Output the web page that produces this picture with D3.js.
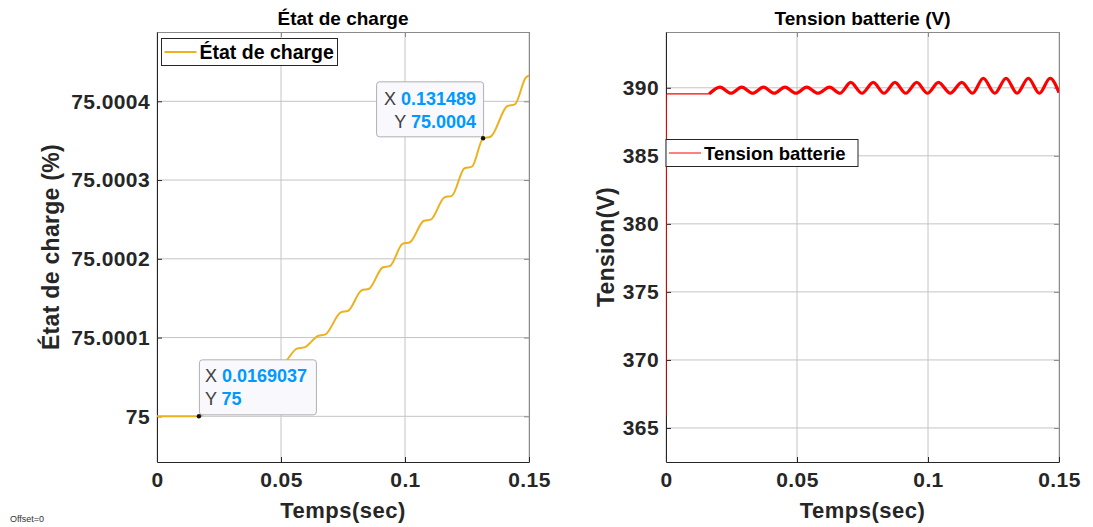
<!DOCTYPE html>
<html>
<head>
<meta charset="utf-8">
<script src="https://cdn.jsdelivr.net/npm/d3@7"></script>
<style>
  body { margin: 0; background: #fff; }
  svg { display: block; font-family: "Liberation Sans", Arial, Helvetica, sans-serif; }
</style>
</head>
<body>
<div class="graph"></div>
<script>
// axe du temps (commun)
const timeTicks = [0, 0.05, 0.1, 0.15]
const timeTickLabels = ['0', '0.05', '0.1', '0.15']

// État de charge (%)
const socTime = [0, 0.0169, 0.0228, 0.0258, 0.0311, 0.0341, 0.0394, 0.0424, 0.0477, 0.0507,
  0.0564, 0.0594, 0.0649, 0.0679, 0.0741, 0.0771, 0.0825, 0.0855, 0.0910, 0.0940,
  0.0990, 0.1020, 0.1075, 0.1105, 0.1159, 0.1189, 0.1240, 0.1270, 0.1315, 0.1345,
  0.1413, 0.1443, 0.1487, 0.1500]
const socValue = [75, 75, 75.000012, 75.000013, 75.000029, 75.000030, 75.000047, 75.000048, 75.000066, 75.000067,
  75.0000860, 75.0000875, 75.000102, 75.000104, 75.000132, 75.000134, 75.000160, 75.000162, 75.000189, 75.000191,
  75.000219, 75.000221, 75.000248, 75.000250, 75.000278, 75.000280, 75.000315, 75.000317, 75.000353, 75.000355,
  75.000394, 75.000396, 75.000430, 75.000433]
const socTicks = [75, 75.0001, 75.0002, 75.0003, 75.0004]
const socTickLabels = ['75', '75.0001', '75.0002', '75.0003', '75.0004']

// Tension batterie (V)
const voltTime = [0, 0.0002, 0.0165,
  0.0206, 0.0248, 0.0289, 0.0331, 0.0372, 0.0413, 0.0454, 0.0496, 0.0537, 0.0580, 0.0624, 0.0664,
  0.0705, 0.0748, 0.0791, 0.0832, 0.0874, 0.0915, 0.0957, 0.0998, 0.1040, 0.1085, 0.1129, 0.1170,
  0.1211, 0.1255, 0.1298, 0.1340, 0.1383, 0.1425, 0.1466, 0.1500]
const voltValue = [365.9, 389.55, 389.55,
  390.05, 389.6, 390.05, 389.6, 390.05, 389.6, 390.05, 389.6, 390.05, 389.6, 390.05, 389.6,
  390.4, 389.6, 390.4, 389.6, 390.4, 389.6, 390.4, 389.6, 390.4, 389.6, 390.4, 389.6,
  390.7, 389.6, 390.7, 389.6, 390.7, 389.6, 390.7, 389.65]
const voltTicks = [365, 370, 375, 380, 385, 390]

// data tips
const tipTime = [0.0169037, 0.131489]
const tipValue = [75, 75.000353]
const tipXText = ['0.0169037', '0.131489']
const tipYText = ['75', '75.0004']

/***
 * mise en page
 */
const BaseData = {
  width: 1093,
  height: 527,
  top: 32,
  bottom: 462,
  svg: null,
}

const svg = d3.select('.graph').append('svg')
  .attr('width', BaseData.width)
  .attr('height', BaseData.height)
BaseData.svg = svg

//dessine un panneau (axes, grille, titre)
function drawPanel(p) {
  const x = d3.scaleLinear().domain([0, 0.15]).range([p.left, p.right])
  const y = d3.scaleLinear().domain(p.yDomain).range([BaseData.bottom, BaseData.top])
  const g = svg.append('g')

  // grille
  g.append('g').selectAll('line').data(timeTicks).enter().append('line')
    .attr('x1', d => x(d)).attr('x2', d => x(d))
    .attr('y1', BaseData.top).attr('y2', BaseData.bottom)
    .attr('stroke', '#c4c4c4')
  g.append('g').selectAll('line').data(p.yTicks).enter().append('line')
    .attr('y1', d => y(d)).attr('y2', d => y(d))
    .attr('x1', p.left).attr('x2', p.right)
    .attr('stroke', '#c4c4c4')

  const fmtX = (d, i) => timeTickLabels[i]
  const fmtY = (d, i) => p.yLabels[i]

  // axes haut / droite (sans texte)
  g.append('g').attr('transform', `translate(0,${BaseData.top})`)
    .call(d3.axisTop(x).tickValues(timeTicks).tickFormat('').tickSizeInner(-5).tickSizeOuter(0))
    .call(a => a.selectAll('path,line').attr('stroke', '#8a8a8a'))
  g.append('g').attr('transform', `translate(${p.right},0)`)
    .call(d3.axisRight(y).tickValues(p.yTicks).tickFormat('').tickSizeInner(-5).tickSizeOuter(0))
    .call(a => a.selectAll('path,line').attr('stroke', '#8a8a8a'))

  // axes bas / gauche
  const ax = g.append('g').attr('transform', `translate(0,${BaseData.bottom})`)
    .call(d3.axisBottom(x).tickValues(timeTicks).tickFormat(fmtX).tickSizeInner(-5).tickSizeOuter(0).tickPadding(10))
  const ay = g.append('g').attr('transform', `translate(${p.left},0)`)
    .call(d3.axisLeft(y).tickValues(p.yTicks).tickFormat(fmtY).tickSizeInner(-5).tickSizeOuter(0).tickPadding(7))
  ;[ax, ay].forEach(a => {
    a.selectAll('path,line').attr('stroke', '#262626')
    a.selectAll('text').attr('fill', '#262626')
      .style('font-size', '21px').style('font-weight', 'bold').style('letter-spacing', '0.4px')
  })

  // titres
  g.append('text').attr('x', (p.left + p.right) / 2).attr('y', 25)
    .attr('text-anchor', 'middle').attr('fill', '#000')
    .style('font-size', '19px').style('font-weight', 'bold')
    .text(p.title)
  g.append('text').attr('x', (p.left + p.right) / 2).attr('y', 518)
    .attr('text-anchor', 'middle').attr('fill', '#262626')
    .style('font-size', '22px').style('font-weight', 'bold').style('letter-spacing', '0.5px')
    .text('Temps(sec)')
  g.append('text')
    .attr('transform', `translate(${p.yLabelX},${(BaseData.top + BaseData.bottom) / 2}) rotate(-90)`)
    .attr('text-anchor', 'middle').attr('fill', '#262626')
    .style('font-size', '23px').style('font-weight', 'bold').style('letter-spacing', '0.3px')
    .text(p.yLabel)

  // clip
  svg.append('clipPath').attr('id', p.id + '-clip')
    .append('rect').attr('x', p.left).attr('y', BaseData.top)
    .attr('width', p.right - p.left).attr('height', BaseData.bottom - BaseData.top)

  return { x, y, g }
}

function drawLegend(g, box, color, lw, label, fs) {
  const lg = g.append('g')
  lg.append('rect').attr('x', box.x).attr('y', box.y).attr('width', box.w).attr('height', box.h)
    .attr('fill', '#fff').attr('stroke', '#262626').attr('stroke-width', 1)
  lg.append('line').attr('x1', box.x + 3).attr('x2', box.x + 35)
    .attr('y1', box.y + box.h / 2).attr('y2', box.y + box.h / 2)
    .attr('stroke', color).attr('stroke-width', lw)
  lg.append('text').attr('x', box.x + 38).attr('y', box.y + box.h / 2 + 7)
    .attr('fill', '#000').style('font-size', fs).style('font-weight', 'bold')
    .text(label)
}

/* ---- panneau gauche : état de charge ---- */
const left = drawPanel({
  id: 'soc', left: 157, right: 529,
  yDomain: [74.999942, 75.000488],
  yTicks: socTicks, yLabels: socTickLabels,
  title: 'État de charge', yLabel: 'État de charge (%)', yLabelX: 59,
})
const socData = socTime.map((t, i) => ({ t, v: socValue[i] }))
left.g.append('path').datum(socData)
  .attr('clip-path', 'url(#soc-clip)')
  .attr('fill', 'none').attr('stroke', '#EDB120').attr('stroke-width', 2)
  .attr('d', d3.line().x(d => left.x(d.t)).y(d => left.y(d.v)).curve(d3.curveMonotoneX))

drawLegend(left.g, { x: 161.5, y: 38.5, w: 176, h: 27 }, '#EDB120', 2, 'État de charge', '19.5px')

//data tips
const tips = tipTime.map((t, i) => ({ t, v: tipValue[i], xs: tipXText[i], ys: tipYText[i], right: i == 1 }))
tips.forEach(d => {
  const px = left.x(d.t), py = left.y(d.v)
  const w = d.right ? 107 : 117, h = 57
  const bx = d.right ? px - w : px
  const tg = left.g.append('g')
  tg.append('rect').attr('x', bx + 0.5).attr('y', py - h + 0.5).attr('width', w).attr('height', h - 2)
    .attr('rx', 3).attr('fill', '#f8f8fd').attr('stroke', '#b0b0b0')
  const rows = [['X', d.xs], ['Y', d.ys]]
  rows.forEach((r, k) => {
    const txt = tg.append('text')
      .attr('x', d.right ? px - 7 : px + 6)
      .attr('y', py - (d.right ? 33 : 34) + k * 22.5)
      .attr('text-anchor', d.right ? 'end' : 'start')
      .style('font-size', '18px')
    txt.append('tspan').attr('fill', '#404040').text(r[0] + ' ')
    txt.append('tspan').attr('fill', '#0099FF').style('font-weight', 'bold').text(r[1])
  })
  tg.append('circle').attr('cx', px).attr('cy', py).attr('r', 2.2).attr('fill', '#111')
})

/* ---- panneau droit : tension batterie ---- */
const right = drawPanel({
  id: 'volt', left: 666, right: 1059,
  yDomain: [362.5, 394.1],
  yTicks: voltTicks, yLabels: voltTicks.map(String),
  title: 'Tension batterie (V)', yLabel: 'Tension(V)', yLabelX: 614,
})
const voltData = voltTime.map((t, i) => ({ t, v: voltValue[i] }))
const voltLine = d3.line().x(d => right.x(d.t)).y(d => right.y(d.v)).curve(d3.curveMonotoneX)
right.g.append('path').datum(voltData)
  .attr('clip-path', 'url(#volt-clip)')
  .attr('fill', 'none').attr('stroke', '#FF0000').attr('stroke-width', 1.2)
  .attr('d', voltLine)
// partie ondulée : trait épais (ondulation haute fréquence)
right.g.append('path').datum(voltData.filter(d => d.t >= 0.0165))
  .attr('clip-path', 'url(#volt-clip)')
  .attr('fill', 'none').attr('stroke', '#FF0000').attr('stroke-width', 3.2)
  .attr('d', voltLine)

drawLegend(right.g, { x: 666, y: 139.5, w: 192, h: 27 }, '#FF0000', 1, 'Tension batterie', '18.5px')

// offset
svg.append('text').attr('x', 10).attr('y', 522).attr('fill', '#333')
  .style('font-size', '9px').text('Offset=0')
</script>
</body>
</html>
